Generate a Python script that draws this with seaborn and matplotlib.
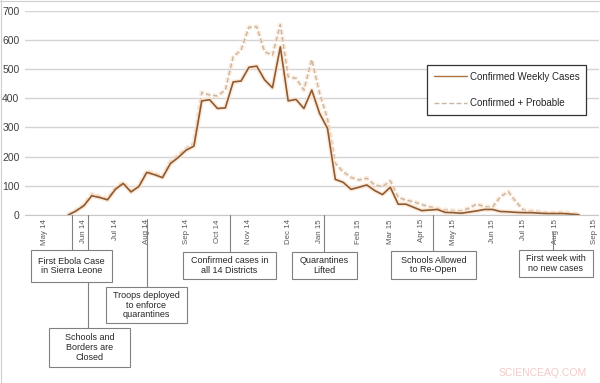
import pandas as pd
import matplotlib.pyplot as plt
import matplotlib.dates as mdates
import matplotlib.patheffects as pe
from matplotlib.patches import Rectangle
from matplotlib.lines import Line2D
import seaborn as sns

# weekly cases, first week ending 24 May 2014 (weeks end on Saturday)
week_start = "2014-05-24"
confirmed = [0, 14, 32, 66, 60, 52, 88, 108, 79, 98,
             146, 138, 128, 176, 197, 222, 236, 391, 395, 365,
             367, 456, 459, 506, 510, 463, 436, 576, 391, 396,
             365, 428, 348, 297, 122, 112, 88, 95, 103, 84,
             70, 95, 37, 37, 26, 15, 17, 19, 9, 8,
             6, 10, 14, 19, 19, 12, 11, 9, 8, 8,
             6, 5, 5, 5, 3, 1]
probable = [0, 16, 35, 72, 64, 56, 92, 112, 82, 100,
            150, 142, 132, 183, 205, 228, 246, 420, 411, 408,
            428, 542, 565, 643, 645, 559, 548, 652, 474, 468,
            428, 533, 417, 330, 177, 148, 129, 120, 126, 103,
            97, 117, 60, 51, 45, 36, 28, 22, 17, 15,
            14, 23, 38, 28, 27, 62, 80, 45, 16, 14,
            11, 8, 8, 9, 6, 2]
y_ticks = [0, 100, 200, 300, 400, 500, 600, 700]

# callouts: text, box left/right/top/bottom (px), connector x, connector top (px)
callouts = [
    ("First Ebola Case\nin Sierra Leone", 31, 112, 250, 282, 72, 215),
    ("Schools and\nBorders are\nClosed", 49, 130, 328, 367, 88, 215),
    ("Troops deployed\nto enforce\nquarantines", 106, 187, 287, 323, 147, 219),
    ("Confirmed cases in\nall 14 Districts", 183, 276, 252, 279, 230, 215),
    ("Quarantines\nLifted", 292, 357, 252, 279, 324, 215),
    ("Schools Allowed\nto Re-Open", 391, 476, 251, 279, 433, 215),
    ("First week with\nno new cases", 519, 593, 250, 277, 553, 232),
]

sns.set_style("white")
plt.rcParams['font.family'] = ['Liberation Sans', 'DejaVu Sans']

weeks = pd.date_range(week_start, periods=len(confirmed), freq="W-SAT")
df = pd.DataFrame({"week": weeks, "confirmed": confirmed, "probable": probable})

W, H = 600, 383
fig = plt.figure(figsize=(6, 3.83), dpi=100)
ax = fig.add_axes([25 / W, 1 - 215 / H, 573.5 / W, 204.3 / H])

glow = [pe.Stroke(linewidth=3.4, foreground="#FCE3CC", alpha=0.7), pe.Normal()]
sns.lineplot(data=df, x="week", y="probable", ax=ax, color="#C9B6A3",
             linewidth=1.0, linestyle=(0, (3.5, 1.8)), path_effects=glow)
sns.lineplot(data=df, x="week", y="confirmed", ax=ax, color="#8E5A32",
             linewidth=1.2, path_effects=glow)

# category axis of weeks, labelled at the first Saturday of each month
all_sats = pd.date_range("2014-04-19", "2015-09-05", freq="W-SAT")
tick_weeks = all_sats[all_sats.day <= 7]
ax.set_xlim(mdates.date2num(all_sats[0] - pd.Timedelta(days=3.5)),
            mdates.date2num(all_sats[-1] + pd.Timedelta(days=3.5)))
ax.set_xticks(mdates.date2num(tick_weeks))
ax.set_xticklabels(tick_weeks.strftime("%b %y"), rotation=90,
                   fontsize=5.7, color="#595959")
ax.set_ylim(0, 700)
ax.set_yticks(y_ticks)
ax.set_yticklabels([str(v) for v in y_ticks], fontsize=7.5, color="#404040")
ax.tick_params(axis="both", length=0)
ax.tick_params(axis="x", pad=3)
ax.tick_params(axis="y", pad=4)
ax.set_xlabel("")
ax.set_ylabel("")
ax.grid(axis="y", color="#D4D4D4", linewidth=1.0)
for s in ["top", "right", "left"]:
    ax.spines[s].set_visible(False)
ax.spines["bottom"].set_color("#C8C8C8")
ax.spines["bottom"].set_linewidth(0.8)

handles = [Line2D([], [], color="#B0733F", linewidth=1.0),
           Line2D([], [], color="#C9B6A3", linewidth=1.0, linestyle=(0, (3.5, 1.8)))]
leg = ax.legend(handles, ["Confirmed Weekly Cases", "Confirmed + Probable"],
                loc="upper left", bbox_to_anchor=(0.701, 0.734), fontsize=7,
                frameon=True, fancybox=False, framealpha=1, edgecolor="#333333",
                labelspacing=1.7, handlelength=3.4, handletextpad=0.3,
                borderpad=0.7, borderaxespad=0)
leg.get_frame().set_linewidth(0.9)
for t in leg.get_texts():
    t.set_color("#262626")

def fx(px):
    return px / W

def fy(py):
    return 1 - py / H

for text, x0, x1, y0, y1, cx, ctop in callouts:
    fig.add_artist(Line2D([fx(cx), fx(cx)], [fy(ctop), fy(y0)],
                          color="#808080", linewidth=0.8, zorder=2))
    fig.add_artist(Rectangle((fx(x0), fy(y1)), fx(x1) - fx(x0), fy(y0) - fy(y1),
                             facecolor="white", edgecolor="#808080",
                             linewidth=0.8, zorder=3))
    fig.text(fx((x0 + x1) / 2), fy((y0 + y1) / 2), text, ha="center", va="center",
             fontsize=6.5, color="#262626", linespacing=1.1, zorder=4)

# thin border of the original picture
fig.add_artist(Line2D([0, 1], [fy(1), fy(1)], color="#CFCFCF", linewidth=0.8))
fig.add_artist(Line2D([fx(1), fx(1)], [0, 1], color="#CFCFCF", linewidth=0.8))

fig.text(fx(543), fy(373), "SCIENCEAQ.COM", ha="center", va="center",
         fontsize=7.5, color="#F3C9C9")

fig.savefig("out.png", dpi=100)
